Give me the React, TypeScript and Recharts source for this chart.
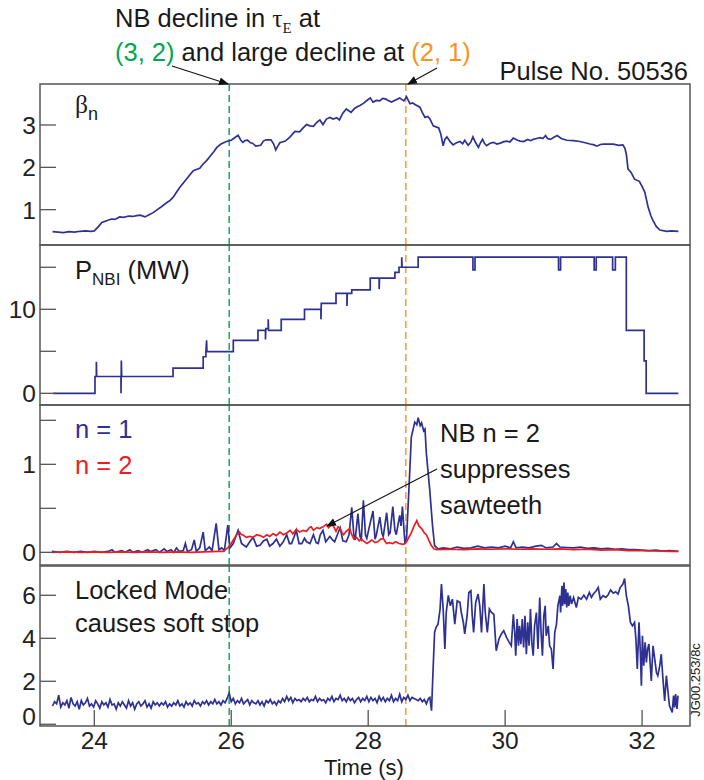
import React from "react";
import { LineChart, Line, XAxis, YAxis, ReferenceLine } from "recharts";

type Pt = [number, number];

// time axis (s)
const X_DOMAIN: [number, number] = [23.207, 32.7];
const X_TICKS = [24, 26, 28, 30, 32];
const MODE_32_TIME = 25.97;
const MODE_21_TIME = 28.55;

// beta_n
const BETA_N: Pt[] = [
  [23.39, 0.48], [23.47, 0.47], [23.55, 0.46], [23.63, 0.48], [23.71, 0.47], [23.79, 0.49], [23.87, 0.5],
  [23.95, 0.49], [24.0, 0.5], [24.06, 0.6], [24.11, 0.7], [24.18, 0.74], [24.25, 0.78], [24.3, 0.77],
  [24.37, 0.83], [24.43, 0.82], [24.5, 0.85], [24.56, 0.84], [24.62, 0.86], [24.67, 0.87], [24.74, 0.83],
  [24.8, 0.88], [24.86, 0.93], [24.91, 0.99], [24.98, 1.07], [25.06, 1.17], [25.1, 1.21], [25.15, 1.29],
  [25.2, 1.41], [25.25, 1.53], [25.3, 1.63], [25.35, 1.73], [25.4, 1.83], [25.445, 1.92], [25.49, 1.95],
  [25.54, 1.98], [25.59, 2.08], [25.64, 2.16], [25.7, 2.28], [25.75, 2.38], [25.79, 2.47], [25.85, 2.55],
  [25.93, 2.61], [26.0, 2.64], [26.05, 2.7], [26.1, 2.76], [26.14, 2.64], [26.17, 2.59], [26.2, 2.63],
  [26.24, 2.64], [26.28, 2.58], [26.31, 2.57], [26.36, 2.5], [26.43, 2.52], [26.47, 2.62], [26.51, 2.65],
  [26.58, 2.65], [26.62, 2.55], [26.65, 2.41], [26.68, 2.5], [26.71, 2.58], [26.79, 2.62], [26.86, 2.72],
  [26.93, 2.85], [27.0, 2.84], [27.05, 2.93], [27.1, 3.01], [27.15, 2.98], [27.2, 2.97], [27.25, 3.06],
  [27.295, 3.12], [27.34, 3.01], [27.39, 3.14], [27.44, 3.18], [27.49, 3.14], [27.54, 3.17], [27.58, 3.12],
  [27.63, 3.28], [27.68, 3.38], [27.72, 3.33], [27.75, 3.3], [27.8, 3.39], [27.84, 3.43], [27.88, 3.46],
  [27.93, 3.51], [27.99, 3.59], [28.03, 3.64], [28.07, 3.54], [28.12, 3.58], [28.17, 3.57], [28.21, 3.63],
  [28.26, 3.61], [28.3, 3.57], [28.34, 3.54], [28.4, 3.59], [28.46, 3.64], [28.52, 3.57], [28.56, 3.67],
  [28.61, 3.5], [28.65, 3.52], [28.69, 3.48], [28.755, 3.42], [28.79, 3.3], [28.83, 3.18], [28.87, 3.2],
  [28.9, 3.15], [28.95, 2.98], [29.0, 2.95], [29.03, 2.93], [29.06, 2.79], [29.095, 2.51], [29.12, 2.66],
  [29.15, 2.72], [29.2, 2.6], [29.24, 2.53], [29.29, 2.58], [29.34, 2.61], [29.38, 2.56], [29.41, 2.64],
  [29.46, 2.52], [29.5, 2.6], [29.53, 2.72], [29.57, 2.58], [29.61, 2.47], [29.64, 2.58], [29.67, 2.66],
  [29.7, 2.56], [29.73, 2.51], [29.78, 2.57], [29.83, 2.59], [29.88, 2.55], [29.93, 2.57], [29.97, 2.6],
  [30.02, 2.62], [30.07, 2.6], [30.12, 2.69], [30.18, 2.64], [30.22, 2.62], [30.27, 2.61], [30.33, 2.66],
  [30.37, 2.63], [30.41, 2.66], [30.46, 2.68], [30.51, 2.7], [30.55, 2.68], [30.59, 2.75], [30.62, 2.68],
  [30.66, 2.66], [30.7, 2.7], [30.76, 2.75], [30.82, 2.68], [30.9, 2.64], [31.0, 2.63], [31.09, 2.61],
  [31.17, 2.58], [31.24, 2.55], [31.3, 2.53], [31.34, 2.5], [31.39, 2.54], [31.44, 2.55], [31.52, 2.55],
  [31.58, 2.55], [31.66, 2.52], [31.72, 2.53], [31.75, 2.45], [31.77, 2.31], [31.795, 1.96], [31.84, 1.88],
  [31.89, 1.72], [31.96, 1.67], [32.0, 1.55], [32.04, 1.41], [32.09, 1.05], [32.13, 0.85], [32.16, 0.74],
  [32.21, 0.6], [32.26, 0.52], [32.36, 0.49], [32.43, 0.5], [32.53, 0.49],
];

// NBI power (MW), steps drawn as pairs of points
const P_NBI: Pt[] = [
  [23.4, 0], [24.01, 0], [24.01, 2], [24.03, 2], [24.03, 3.75], [24.035, 2], [24.39, 2], [24.39, 0],
  [24.395, 3.9], [24.4, 2], [25.15, 2], [25.15, 3], [25.59, 3], [25.59, 4.35], [25.63, 4.35], [25.63, 4.95],
  [25.64, 6.3], [25.645, 4.95], [26.03, 4.95], [26.03, 6.3], [26.39, 6.3], [26.39, 7.5], [26.5, 7.5],
  [26.5, 6.4], [26.505, 7.7], [26.54, 7.7], [26.54, 8.8], [26.545, 7.5], [26.73, 7.5], [26.73, 8.8],
  [27.07, 8.8], [27.07, 10], [27.31, 10], [27.31, 8.8], [27.315, 10.7], [27.53, 10.7], [27.53, 11.9],
  [27.69, 11.9], [27.69, 10.4], [27.695, 11.9], [27.76, 11.9], [27.76, 12.3], [28.03, 12.3], [28.03, 13.7],
  [28.16, 13.7], [28.16, 12.4], [28.165, 13.7], [28.39, 13.7], [28.39, 14.4], [28.45, 14.4], [28.45, 15.0],
  [28.49, 15.0], [28.49, 16.2], [28.495, 15.0], [28.73, 15.0], [28.73, 16.2], [29.53, 16.2], [29.53, 14.7],
  [29.56, 14.7], [29.56, 16.2], [30.78, 16.2], [30.78, 14.7], [30.81, 14.7], [30.81, 16.2], [31.3, 16.2],
  [31.3, 14.7], [31.33, 14.7], [31.33, 16.2], [31.57, 16.2], [31.57, 14.7], [31.61, 14.7], [31.61, 16.2],
  [31.77, 16.2], [31.77, 7.5], [32.03, 7.5], [32.03, 3.87], [32.06, 3.87], [32.06, 0], [32.53, 0],
];

// n = 1 mode amplitude
const N1_AMP: Pt[] = [
  [23.38, 0.01], [23.5, 0.0], [23.6, 0.01], [23.7, 0.0], [23.8, 0.01], [23.9, 0.0], [24.0, 0.01], [24.1, 0.0],
  [24.2, 0.01], [24.26, 0.03], [24.3, 0.0], [24.4, 0.02], [24.45, 0.0], [24.52, 0.03], [24.56, 0.0],
  [24.64, 0.02], [24.7, 0.0], [24.78, 0.03], [24.82, 0.01], [24.9, 0.03], [24.95, 0.0], [25.02, 0.04],
  [25.06, 0.01], [25.12, 0.03], [25.16, 0.0], [25.2, 0.05], [25.24, 0.01], [25.3, 0.02], [25.33, 0.1],
  [25.36, 0.01], [25.42, 0.03], [25.46, 0.14], [25.49, 0.01], [25.54, 0.05], [25.59, 0.23], [25.62, 0.02],
  [25.68, 0.06], [25.72, 0.02], [25.78, 0.33], [25.82, 0.03], [25.86, 0.05], [25.9, 0.02], [25.95, 0.31],
  [25.98, 0.05], [26.03, 0.1], [26.1, 0.25], [26.15, 0.1], [26.22, 0.06], [26.27, 0.12], [26.32, 0.17],
  [26.37, 0.07], [26.42, 0.08], [26.47, 0.13], [26.52, 0.15], [26.56, 0.07], [26.61, 0.1], [26.66, 0.15],
  [26.71, 0.07], [26.76, 0.12], [26.81, 0.2], [26.85, 0.1], [26.88, 0.1], [26.92, 0.18], [26.95, 0.25],
  [26.99, 0.1], [27.03, 0.1], [27.07, 0.16], [27.1, 0.12], [27.15, 0.1], [27.2, 0.2], [27.24, 0.11],
  [27.27, 0.1], [27.3, 0.2], [27.34, 0.25], [27.38, 0.12], [27.44, 0.18], [27.48, 0.14], [27.51, 0.12],
  [27.55, 0.2], [27.59, 0.28], [27.63, 0.13], [27.68, 0.12], [27.72, 0.2], [27.76, 0.51], [27.79, 0.2],
  [27.81, 0.14], [27.85, 0.44], [27.88, 0.18], [27.9, 0.15], [27.93, 0.59], [27.96, 0.2], [27.98, 0.16],
  [28.02, 0.3], [28.07, 0.47], [28.1, 0.15], [28.12, 0.2], [28.17, 0.4], [28.2, 0.22], [28.22, 0.18],
  [28.27, 0.45], [28.3, 0.2], [28.32, 0.22], [28.36, 0.52], [28.39, 0.25], [28.41, 0.2], [28.46, 0.42],
  [28.48, 0.3], [28.5, 0.52], [28.535, 0.12], [28.56, 0.15], [28.6, 0.8], [28.63, 1.31], [28.68, 1.48],
  [28.71, 1.45], [28.73, 1.53], [28.76, 1.44], [28.78, 1.47], [28.81, 1.38], [28.83, 1.4], [28.85, 1.12],
  [28.9, 0.7], [28.94, 0.3], [28.97, 0.075], [29.02, 0.04], [29.1, 0.05], [29.2, 0.04], [29.3, 0.06],
  [29.4, 0.045], [29.5, 0.05], [29.6, 0.07], [29.7, 0.05], [29.8, 0.06], [29.9, 0.05], [30.0, 0.07],
  [30.08, 0.05], [30.12, 0.12], [30.16, 0.05], [30.25, 0.06], [30.35, 0.05], [30.45, 0.07], [30.53, 0.08],
  [30.6, 0.05], [30.7, 0.06], [30.75, 0.1], [30.8, 0.06], [30.9, 0.055], [31.0, 0.05], [31.1, 0.06],
  [31.2, 0.045], [31.3, 0.05], [31.4, 0.04], [31.5, 0.045], [31.6, 0.035], [31.7, 0.04], [31.8, 0.03],
  [31.9, 0.03], [32.0, 0.025], [32.1, 0.02], [32.2, 0.025], [32.3, 0.015], [32.4, 0.02], [32.53, 0.01],
];

// n = 2 mode amplitude
const N2_AMP: Pt[] = [
  [23.38, 0.0], [23.6, 0.005], [23.8, 0.0], [24.0, 0.005], [24.2, 0.0], [24.4, 0.005], [24.6, 0.0],
  [24.8, 0.005], [25.0, 0.0], [25.2, 0.005], [25.4, 0.0], [25.6, 0.005], [25.8, 0.01], [25.88, 0.01],
  [25.93, 0.04], [25.96, 0.06], [26.0, 0.1], [26.03, 0.14], [26.08, 0.2], [26.12, 0.23], [26.15, 0.2],
  [26.17, 0.2], [26.22, 0.17], [26.27, 0.18], [26.32, 0.17], [26.37, 0.2], [26.42, 0.19], [26.47, 0.17],
  [26.52, 0.2], [26.56, 0.18], [26.61, 0.21], [26.66, 0.19], [26.71, 0.23], [26.76, 0.2], [26.81, 0.22],
  [26.86, 0.25], [26.9, 0.21], [26.95, 0.26], [27.0, 0.23], [27.05, 0.25], [27.1, 0.24], [27.14, 0.28],
  [27.17, 0.29], [27.2, 0.25], [27.25, 0.28], [27.29, 0.27], [27.34, 0.29], [27.39, 0.32], [27.42, 0.28],
  [27.46, 0.31], [27.49, 0.3], [27.53, 0.24], [27.56, 0.29], [27.59, 0.27], [27.62, 0.22], [27.64, 0.2],
  [27.68, 0.24], [27.73, 0.27], [27.76, 0.2], [27.79, 0.15], [27.83, 0.17], [27.87, 0.13], [27.9, 0.15],
  [27.93, 0.13], [27.98, 0.1], [28.02, 0.12], [28.05, 0.14], [28.07, 0.13], [28.1, 0.11], [28.14, 0.12],
  [28.18, 0.15], [28.22, 0.16], [28.25, 0.12], [28.27, 0.1], [28.31, 0.11], [28.36, 0.1], [28.4, 0.12],
  [28.45, 0.1], [28.51, 0.09], [28.54, 0.1], [28.56, 0.12], [28.6, 0.18], [28.63, 0.22], [28.67, 0.3],
  [28.71, 0.36], [28.74, 0.3], [28.78, 0.27], [28.82, 0.22], [28.85, 0.2], [28.89, 0.13], [28.92, 0.08],
  [28.96, 0.04], [29.0, 0.03], [29.2, 0.035], [29.4, 0.03], [29.6, 0.04], [29.8, 0.035], [30.0, 0.04],
  [30.2, 0.035], [30.4, 0.04], [30.6, 0.035], [30.8, 0.04], [31.0, 0.03], [31.2, 0.035], [31.4, 0.025],
  [31.6, 0.03], [31.8, 0.02], [32.0, 0.02], [32.2, 0.015], [32.4, 0.01], [32.53, 0.01],
];

// locked mode amplitude
const LOCKED_MODE: Pt[] = [
  [23.39, 0.85], [23.42, 1.05], [23.45, 0.95], [23.48, 1.35], [23.51, 0.8], [23.54, 1.0], [23.57, 0.9],
  [23.6, 1.1], [23.63, 0.75], [23.66, 1.25], [23.69, 0.95], [23.72, 0.85], [23.75, 1.05], [23.78, 0.7],
  [23.81, 1.1], [23.84, 0.9], [23.87, 1.0], [23.9, 1.2], [23.93, 0.85], [23.96, 0.95], [23.99, 0.8],
  [24.02, 1.1], [24.05, 0.95], [24.08, 0.75], [24.11, 1.05], [24.14, 0.9], [24.17, 1.0], [24.2, 0.8],
  [24.23, 1.15], [24.26, 0.9], [24.29, 0.95], [24.32, 0.7], [24.35, 1.0], [24.38, 0.85], [24.41, 1.05],
  [24.44, 0.9], [24.47, 0.75], [24.5, 1.1], [24.53, 0.85], [24.56, 1.0], [24.59, 0.7], [24.62, 0.95],
  [24.65, 1.05], [24.68, 0.85], [24.71, 0.95], [24.74, 1.1], [24.77, 0.8], [24.8, 0.95], [24.83, 0.75],
  [24.86, 1.05], [24.89, 0.9], [24.92, 1.0], [24.95, 0.85], [24.98, 1.0], [25.01, 0.9], [25.04, 1.05],
  [25.07, 0.8], [25.1, 0.95], [25.13, 0.85], [25.16, 1.0], [25.19, 0.9], [25.22, 1.1], [25.25, 0.85],
  [25.28, 0.95], [25.31, 0.8], [25.34, 1.05], [25.37, 0.9], [25.4, 1.0], [25.43, 0.85], [25.46, 1.1],
  [25.49, 0.95], [25.52, 1.0], [25.55, 0.85], [25.58, 1.05], [25.61, 0.95], [25.64, 1.1], [25.67, 0.9],
  [25.7, 1.05], [25.73, 0.95], [25.76, 1.15], [25.79, 0.95], [25.82, 1.05], [25.85, 0.9], [25.88, 1.1],
  [25.91, 1.0], [25.94, 1.2], [25.97, 1.45], [26.0, 1.05], [26.03, 1.2], [26.06, 0.95], [26.09, 1.1],
  [26.12, 1.0], [26.15, 1.2], [26.18, 0.95], [26.21, 1.05], [26.24, 1.15], [26.27, 0.9], [26.3, 1.1],
  [26.33, 1.0], [26.36, 0.95], [26.39, 1.1], [26.42, 0.9], [26.45, 1.05], [26.48, 0.85], [26.51, 1.1],
  [26.54, 1.0], [26.57, 1.15], [26.6, 0.95], [26.63, 1.05], [26.66, 0.9], [26.69, 1.1], [26.72, 1.0],
  [26.75, 1.2], [26.78, 1.05], [26.81, 1.3], [26.84, 1.1], [26.87, 1.25], [26.9, 1.0], [26.93, 1.2],
  [26.96, 1.1], [26.99, 1.15], [27.02, 1.05], [27.05, 1.2], [27.08, 1.1], [27.11, 1.25], [27.14, 1.05],
  [27.17, 1.15], [27.2, 1.1], [27.23, 1.3], [27.26, 1.05], [27.29, 1.2], [27.32, 1.1], [27.35, 1.15],
  [27.38, 1.0], [27.41, 1.2], [27.44, 1.1], [27.47, 1.3], [27.5, 1.05], [27.53, 1.2], [27.56, 1.15],
  [27.59, 1.35], [27.62, 1.1], [27.65, 1.2], [27.68, 1.05], [27.71, 1.25], [27.74, 1.1], [27.77, 1.2],
  [27.8, 1.0], [27.83, 1.15], [27.86, 1.25], [27.89, 1.05], [27.92, 1.2], [27.95, 1.1], [27.98, 1.3],
  [28.01, 1.05], [28.04, 1.25], [28.07, 1.1], [28.1, 1.2], [28.13, 1.0], [28.16, 1.3], [28.19, 1.1],
  [28.22, 1.25], [28.25, 1.05], [28.28, 1.2], [28.31, 1.1], [28.34, 1.35], [28.37, 1.05], [28.4, 1.2],
  [28.43, 1.1], [28.46, 1.4], [28.49, 1.05], [28.52, 1.25], [28.55, 1.15], [28.58, 1.35], [28.61, 1.1],
  [28.64, 1.25], [28.67, 1.2], [28.7, 1.15], [28.73, 1.1], [28.76, 1.2], [28.79, 1.05], [28.82, 1.15],
  [28.85, 0.95], [28.88, 1.2], [28.9, 1.25], [28.925, 0.63], [28.95, 2.72], [28.97, 4.27], [28.99, 4.5],
  [29.02, 4.66], [29.05, 5.36], [29.07, 6.52], [29.095, 5.36], [29.12, 3.5], [29.14, 5.2], [29.17, 6.0],
  [29.2, 5.51], [29.23, 5.82], [29.265, 4.66], [29.3, 5.74], [29.34, 5.67], [29.36, 5.2], [29.39, 4.74],
  [29.41, 4.2], [29.445, 5.05], [29.47, 6.13], [29.5, 6.21], [29.52, 5.05], [29.54, 4.27], [29.57, 5.67],
  [29.605, 6.06], [29.63, 5.51], [29.655, 4.27], [29.69, 6.52], [29.71, 5.2], [29.74, 4.27], [29.77, 5.36],
  [29.8, 5.2], [29.835, 5.12], [29.87, 3.42], [29.91, 3.96], [29.945, 4.2], [29.98, 4.35], [30.02, 4.04],
  [30.06, 3.81], [30.09, 3.65], [30.12, 5.12], [30.14, 4.27], [30.155, 3.19], [30.175, 4.9], [30.195, 3.65],
  [30.21, 4.58], [30.23, 3.73], [30.25, 4.9], [30.27, 3.57], [30.29, 5.05], [30.31, 3.26], [30.33, 4.74],
  [30.35, 3.65], [30.37, 5.36], [30.39, 3.81], [30.41, 3.19], [30.43, 4.58], [30.457, 5.2], [30.48, 3.5],
  [30.505, 5.9], [30.525, 4.27], [30.545, 3.19], [30.565, 5.05], [30.585, 5.51], [30.6, 4.12], [30.63, 4.58],
  [30.65, 3.65], [30.675, 3.5], [30.7, 2.57], [30.725, 4.27], [30.75, 4.66], [30.77, 5.51], [30.8, 5.98],
  [30.81, 5.2], [30.83, 6.44], [30.84, 5.51], [30.86, 6.6], [30.87, 5.59], [30.885, 6.29], [30.9, 5.43],
  [30.915, 6.13], [30.93, 5.51], [30.95, 5.98], [30.97, 5.59], [31.0, 5.9], [31.04, 5.43], [31.07, 5.9],
  [31.11, 5.82], [31.15, 6.0], [31.19, 5.82], [31.23, 6.13], [31.26, 5.9], [31.29, 6.06], [31.33, 6.21],
  [31.36, 6.36], [31.39, 5.82], [31.43, 5.98], [31.47, 5.9], [31.5, 6.0], [31.54, 6.25], [31.58, 6.1],
  [31.615, 6.16], [31.65, 6.06], [31.68, 6.36], [31.72, 6.52], [31.745, 6.78], [31.77, 5.98], [31.8, 5.51],
  [31.83, 4.74], [31.86, 4.58], [31.89, 4.74], [31.91, 3.96], [31.93, 2.57], [31.955, 4.74], [31.975, 3.34],
  [31.99, 1.79], [32.005, 4.12], [32.025, 2.72], [32.045, 3.81], [32.063, 2.88], [32.08, 3.5], [32.1, 3.73],
  [32.12, 2.72], [32.135, 2.02], [32.16, 3.65], [32.185, 3.03], [32.21, 2.41], [32.23, 2.26], [32.258, 2.72],
  [32.28, 3.26], [32.305, 2.1], [32.33, 1.09], [32.355, 2.26], [32.38, 1.48], [32.4, 0.86], [32.43, 0.63],
  [32.44, 0.55], [32.46, 1.33], [32.475, 0.78], [32.49, 1.4], [32.51, 0.71], [32.525, 1.33],
];

const BETA_TICKS = [1, 2, 3];
const PNBI_TICKS = [0, 5, 10, 15];
const PNBI_LABELS = [0, 10];
const MODE_TICKS = [0, 0.5, 1, 1.5];
const MODE_LABELS = [0, 1];
const LM_TICKS = [0, 2, 4, 6];

const BLUE = "#2e3192";
const RED = "#ed1c24";
const GREEN = "#00a651";
const ORANGE = "#f7941d";
const AXIS = "#555";
const FONT = "'Liberation Sans', Arial, sans-serif";
const FS = 25.5;
const TICK_FS = 24.5;

const toRows = (pts: Pt[]) => pts.map(([t, v]) => ({ t, v }));

const YTick = (props: any) => {
  const { x, y, payload, labels, lift } = props;
  const show = labels.includes(payload.value);
  const dy = lift && payload.value === 0 ? 1 : 9;
  return (
    <g>
      <line x1={x} x2={x + 16} y1={y} y2={y} stroke={AXIS} strokeWidth={1.3} />
      {show && (
        <text x={x - 4} y={y + dy} textAnchor="end" fontSize={TICK_FS} fontFamily={FONT} fill="#222">
          {payload.value}
        </text>
      )}
    </g>
  );
};

const XTick = (props: any) => {
  const { x, y, payload } = props;
  return (
    <g>
      <line x1={x} x2={x} y1={y - 16} y2={y} stroke={AXIS} strokeWidth={1.3} />
      <text x={x} y={y + 23} textAnchor="middle" fontSize={TICK_FS} fontFamily={FONT} fill="#222">
        {payload.value}
      </text>
    </g>
  );
};

interface ISeries {
  data: Pt[];
  color: string;
}

interface IPanel {
  top: number;
  height: number;
  domain: [number, number];
  ticks: number[];
  labels: number[];
  series: ISeries[];
  showX?: boolean;
  lift?: boolean;
}

const X_AXIS_H = 34;
const PAD = 12; // room above/below the frame for tick labels

const Panel: React.FC<IPanel> = ({ top, height, domain, ticks, labels, series, showX, lift }) => (
  <div style={{ position: "absolute", left: 0, top: top - PAD }}>
    <LineChart
      width={704}
      height={height + 2 * PAD + (showX ? X_AXIS_H : 0)}
      margin={{ top: PAD, right: 14, bottom: PAD, left: 0 }}
    >
      <XAxis
        type="number"
        dataKey="t"
        domain={X_DOMAIN}
        allowDataOverflow
        ticks={X_TICKS}
        interval={0}
        hide={!showX}
        height={showX ? X_AXIS_H : 0}
        tick={<XTick />}
        tickLine={false}
        axisLine={false}
        tickSize={0}
        tickMargin={0}
      />
      <YAxis
        type="number"
        domain={domain}
        allowDataOverflow
        ticks={ticks}
        interval={0}
        width={40}
        tick={(p: any) => <YTick {...p} labels={labels} lift={lift} />}
        tickLine={false}
        axisLine={false}
        tickSize={0}
        tickMargin={0}
      />
      <ReferenceLine x={MODE_32_TIME} stroke={GREEN} strokeWidth={1.4} strokeDasharray="7 4" />
      <ReferenceLine x={MODE_21_TIME} stroke={ORANGE} strokeWidth={1.4} strokeDasharray="7 4" />
      {series.map((s, i) => (
        <Line
          key={i}
          data={toRows(s.data)}
          dataKey="v"
          type="linear"
          stroke={s.color}
          strokeWidth={1.7}
          dot={false}
          activeDot={false}
          isAnimationActive={false}
        />
      ))}
    </LineChart>
  </div>
);

const PANELS = [
  { top: 84, height: 161 },
  { top: 245, height: 160 },
  { top: 405, height: 160 },
  { top: 566, height: 160 },
];

const App = () => {
  return (
    <div style={{ position: "absolute", left: 0, top: 0, width: 704, height: 780, background: "#fff", fontFamily: FONT }}>
      <Panel {...PANELS[0]} domain={[0.166, 3.968]} ticks={BETA_TICKS} labels={BETA_TICKS}
        series={[{ data: BETA_N, color: BLUE }]} />
      <Panel {...PANELS[1]} domain={[-1.39, 17.65]} ticks={PNBI_TICKS} labels={PNBI_LABELS}
        series={[{ data: P_NBI, color: BLUE }]} />
      <Panel {...PANELS[2]} domain={[-0.144, 1.674]} ticks={MODE_TICKS} labels={MODE_LABELS}
        series={[{ data: N1_AMP, color: BLUE }, { data: N2_AMP, color: RED }]} />
      <Panel {...PANELS[3]} domain={[-0.08, 7.363]} ticks={LM_TICKS} labels={LM_TICKS} lift showX
        series={[{ data: LOCKED_MODE, color: BLUE }]} />

      <svg width={704} height={780} style={{ position: "absolute", left: 0, top: 0, pointerEvents: "none" }}>
        <defs>
          <marker id="arr" viewBox="0 0 10 10" refX="9" refY="5" markerWidth="9" markerHeight="9" orient="auto-start-reverse">
            <path d="M0,1 L10,5 L0,9 z" fill="#111" />
          </marker>
        </defs>
        {PANELS.map((p, i) => (
          <rect key={i} x={40} y={p.top} width={650} height={p.height} fill="none" stroke={AXIS} strokeWidth={1.5} />
        ))}

        <g fontFamily={FONT} fontSize={FS} fill="#1a1a1a">
          <text x={115} y={27}>
            NB decline in <tspan fontFamily="'Liberation Serif', serif">τ</tspan>
            <tspan fontFamily="'Liberation Serif', serif" fontSize={15} dy={6}>E</tspan>
            <tspan dy={-6}> at</tspan>
          </text>
          <text x={115} y={61}>
            <tspan fill={GREEN}>(3, 2)</tspan>
            <tspan> and large decline at </tspan>
            <tspan fill={ORANGE}>(2, 1)</tspan>
          </text>
          <text x={688} y={80} textAnchor="end">Pulse No. 50536</text>

          <text x={75} y={113}>
            <tspan fontFamily="'Liberation Serif', serif">β</tspan>
            <tspan fontSize={18} dy={7}>n</tspan>
          </text>
          <text x={75} y={279}>
            P<tspan fontSize={17} dy={6}>NBI</tspan>
            <tspan dy={-6}> (MW)</tspan>
          </text>
          <text x={75} y={438} fill={BLUE}>n = 1</text>
          <text x={75} y={474} fill={RED}>n = 2</text>
          <text x={440} y={442}>NB n = 2</text>
          <text x={440} y={478}>suppresses</text>
          <text x={440} y={514}>sawteeth</text>
          <text x={75} y={599}>Locked Mode</text>
          <text x={75} y={632}>causes soft stop</text>
          <text x={364} y={775} textAnchor="middle" fontSize={22}>Time (s)</text>
        </g>
        <text x={700} y={680} transform="rotate(-90 700 680)" textAnchor="middle" fontFamily={FONT} fontSize={13} fill="#222">
          JG00.253/8c
        </text>

        <line x1={172} y1={66} x2={228} y2={84} stroke="#111" strokeWidth={1.1} markerEnd="url(#arr)" />
        <line x1={437} y1={68} x2={408} y2={84} stroke="#111" strokeWidth={1.1} markerEnd="url(#arr)" />
        <line x1={437} y1={469} x2={327} y2={526} stroke="#111" strokeWidth={1.1} markerEnd="url(#arr)" />
      </svg>
    </div>
  );
};

export default App;
